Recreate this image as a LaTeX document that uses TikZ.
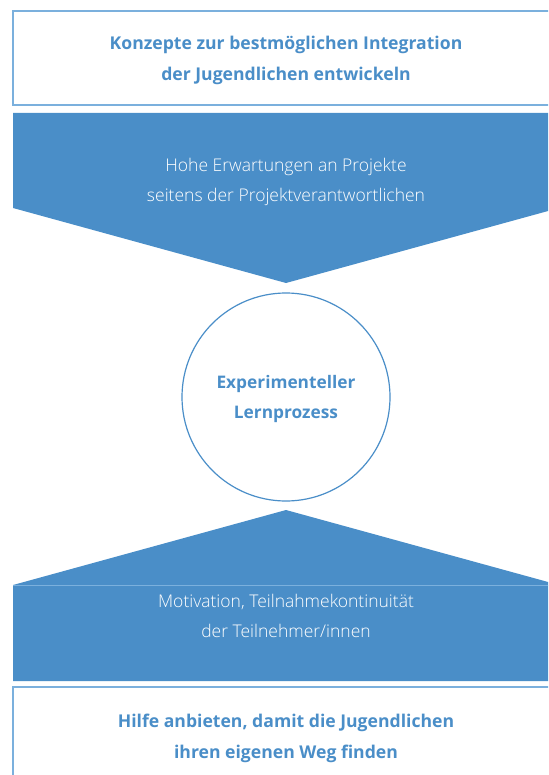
\documentclass[tikz,border=0pt]{standalone}
\usepackage{fontspec}
\setmainfont{Open Sans}
\newfontfamily\lightfont{Open Sans Light}
\definecolor{fillblue}{HTML}{4A8EC8}
\definecolor{lineblue}{HTML}{7BB0DD}
\definecolor{textblue}{HTML}{4A8EC8}
\tikzset{
  boxline/.style={draw=lineblue, line width=1.3pt, fill=white},
  arrowshape/.style={fill=fillblue, draw=none},
  boldtext/.style={font=\fontsize{17.6}{20}\selectfont\bfseries, text=textblue, anchor=base, inner sep=0pt},
  circtext/.style={font=\fontsize{17.3}{20}\selectfont\bfseries, text=textblue, anchor=base, inner sep=0pt},
  lighttext/.style={font=\fontsize{17.5}{20}\selectfont\lightfont, text=white, anchor=base, inner sep=0pt},
  ringstyle/.style={circle, draw=fillblue, line width=1.2pt, minimum size=208pt, inner sep=0pt}
}
\begin{document}
\begin{tikzpicture}[x=1pt,y=-1pt]
\useasboundingbox (0,0) rectangle (548,775);
\clip (0,0) rectangle (548,775);
% top box
\draw[boxline] (13,11) rectangle (562,105);
\node[boldtext] (t1a) at (286,50) {Konzepte zur bestmöglichen Integration};
\node[boldtext] (t1b) at (286,81) {der Jugendlichen entwickeln};
% top arrow
\fill[arrowshape] (13,113) -- (559,113) -- (559,208) -- (286,283) -- (13,208) -- cycle;
\node[lighttext] (t2a) at (286,172) {Hohe Erwartungen an Projekte};
\node[lighttext] (t2b) at (286,202) {seitens der Projektverantwortlichen};
% circle
\node[ringstyle] (ring) at (286,397) {};
\node[circtext] (t3a) at (286,388) {Experimenteller};
\node[circtext] (t3b) at (286,418) {Lernprozess};
% bottom arrow
\fill[arrowshape] (286,510) -- (559,585) -- (559,681) -- (13,681) -- (13,585) -- cycle;
\draw[lineblue, line width=0.6pt] (13,585.5) -- (559,585.5);
\node[lighttext] (t4a) at (286,607) {Motivation, Teilnahmekontinuität};
\node[lighttext] (t4b) at (286,637) {der Teilnehmer/innen};
% bottom box
\draw[boxline] (13,687) rectangle (562,790);
\node[boldtext] (t5a) at (286,727) {Hilfe anbieten, damit die Jugendlichen};
\node[boldtext] (t5b) at (286,758) {ihren eigenen Weg finden};
\end{tikzpicture}
\end{document}
